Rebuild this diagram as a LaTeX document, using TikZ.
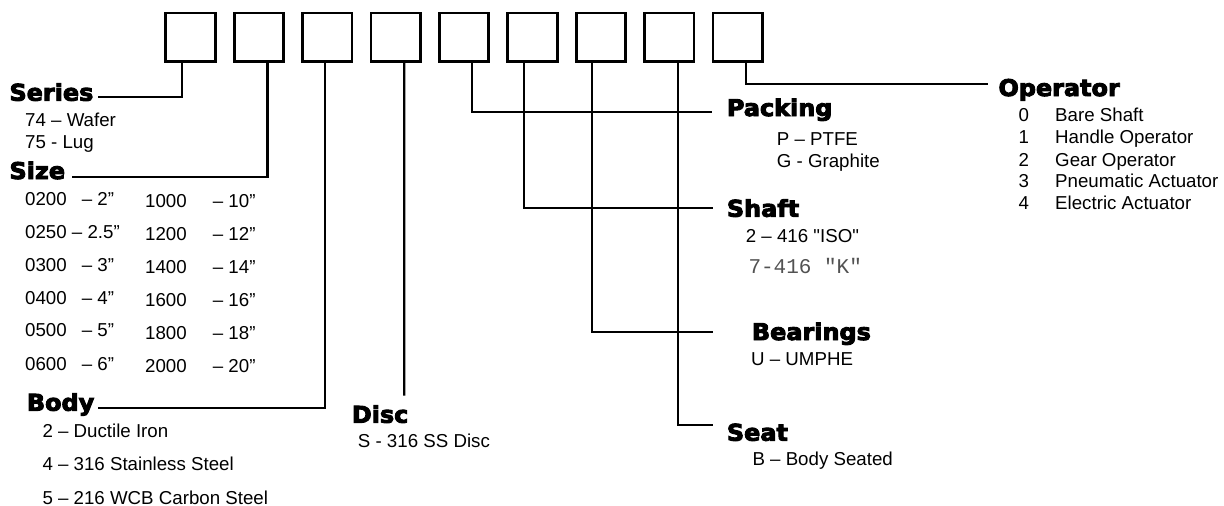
\documentclass[tikz,border=0pt]{standalone}
\usepackage{fontspec}
\setmainfont{Liberation Sans}
\setmonofont{Liberation Mono}
\newfontfamily\headfont[FakeBold=4,FakeStretch=1.04]{DejaVu Sans Bold}
\newfontfamily\nolig[Ligatures=TeXOff]{Liberation Sans}
\begin{document}
\begin{tikzpicture}[x=1pt,y=-1pt,
  box/.style={draw, line width=2.8pt, minimum width=49.5pt, minimum height=48.5pt, inner sep=0pt},
  conn/.style={line width=2.3pt},
  head/.style={anchor=base west, inner sep=0pt, font=\headfont\fontsize{23}{24}\selectfont},
  item/.style={anchor=base west, inner sep=0pt, font=\fontsize{18.7}{20}\selectfont},
  mono/.style={anchor=base west, inner sep=0pt, text=black!68, font=\ttfamily\fontsize{21}{22}\selectfont}]
\useasboundingbox[fill=white] (0,0) rectangle (1224,506);

% code boxes
\foreach \i in {1,...,9}
  \node[box] (b\i) at ({190.5+68.4*(\i-1)},37.2) {};

% Series
\node[head] (series) at (9.3,100.7) {Series};
\node[item] (s1) at (25,126.7) {74 – Wafer};
\node[item] (s2) at (25,148.3) {75 - Lug};
\draw[conn] ([xshift=-8.2]b1.south) |- ([xshift=4,yshift=4]series.base east);

% Size
\node[head] (size) at (9.3,179) {Size};
\draw[conn] ([xshift=8.6]b2.south) |- ([xshift=6.7,yshift=2.3]size.base east);
\node[item] (z1a) at (25,205) {0200};   \node[item] (z1b) at (81.7,205) {– 2”};
\node[item] (z2a) at (25,238.3) {0250 – 2.5”};
\node[item] (z3a) at (25,271) {0300};   \node[item] (z3b) at (81.7,271) {– 3”};
\node[item] (z4a) at (25,304) {0400};   \node[item] (z4b) at (81.7,304) {– 4”};
\node[item] (z5a) at (25,336.7) {0500}; \node[item] (z5b) at (81.7,336.7) {– 5”};
\node[item] (z6a) at (25,370) {0600};   \node[item] (z6b) at (81.7,370) {– 6”};
\node[item] (y1a) at (145,207.3) {1000}; \node[item] (y1b) at (212.7,207.3) {– 10”};
\node[item] (y2a) at (145,240.7) {1200}; \node[item] (y2b) at (212.7,240.7) {– 12”};
\node[item] (y3a) at (145,273.3) {1400}; \node[item] (y3b) at (212.7,273.3) {– 14”};
\node[item] (y4a) at (145,306.7) {1600}; \node[item] (y4b) at (212.7,306.7) {– 16”};
\node[item] (y5a) at (145,339.3) {1800}; \node[item] (y5b) at (212.7,339.3) {– 18”};
\node[item] (y6a) at (145,372.3) {2000}; \node[item] (y6b) at (212.7,372.3) {– 20”};

% Body
\node[head] (body) at (26.7,410.7) {Body};
\draw[conn] ([xshift=-2.3]b3.south) |- ([xshift=4,yshift=3]body.base east);
\node[item] (bo1) at (42.3,437.3) {2 – Ductile Iron};
\node[item] (bo2) at (42.3,470.7) {4 – 316 Stainless Steel};
\node[item] (bo3) at (42.3,504) {5 – 216 WCB Carbon Steel};

% Disc
\node[head] (disc) at (351.7,422.7) {Disc};
\node[item] (d1) at (357.7,447.3) {S - 316 SS Disc};
\coordinate (discend) at (404.3,395.7);
\draw[conn] ([xshift=8.6]b4.south) -- (discend);

% Packing
\node[head] (packing) at (726.7,116) {Packing};
\node[item] (p1) at (776.7,145) {P – PTFE};
\node[item] (p2) at (776.7,167.3) {G - Graphite};
\draw[conn] ([xshift=8.2]b5.south) |- ([xshift=-14.4,yshift=4.3]packing.base west);

% Shaft
\node[head] (shaft) at (726.7,216.7) {Shaft};
\node[item, font=\nolig\fontsize{18.7}{20}\selectfont] (sh1) at (745.7,242.3) {2 – 416 "ISO"};
\node[mono] (sh2) at (748.3,273.3) {7-416 "K"};
\draw[conn] ([xshift=-8.5]b6.south) |- ([xshift=-14,yshift=9]shaft.base west);

% Bearings
\node[head] (bearings) at (751.7,340) {Bearings};
\node[item] (be1) at (751,365.7) {U – UMPHE};
\draw[conn] ([xshift=-8.6]b7.south) |- ([xshift=-39,yshift=8.3]bearings.base west);

% Seat
\node[head] (seat) at (726.7,440.7) {Seat};
\node[item] (se1) at (752.3,465) {B – Body Seated};
\draw[conn] ([xshift=9]b8.south) |- ([xshift=-14,yshift=15.7]seat.base west);

% Operator
\node[head] (operator) at (998.3,96) {Operator};
\draw[conn] ([xshift=8]b9.south) |- ([xshift=-10,yshift=12]operator.base west);
\foreach \n/\t/\yy in {0/Bare Shaft/121.7, 1/Handle Operator/143.3, 2/Gear Operator/166,
                      3/Pneumatic Actuator/187.7, 4/Electric Actuator/209} {
  \node[item] (on\n) at (1018.3,\yy) {\n};
  \node[item] (ot\n) at (1055,\yy) {\t};
}
\end{tikzpicture}
\end{document}
